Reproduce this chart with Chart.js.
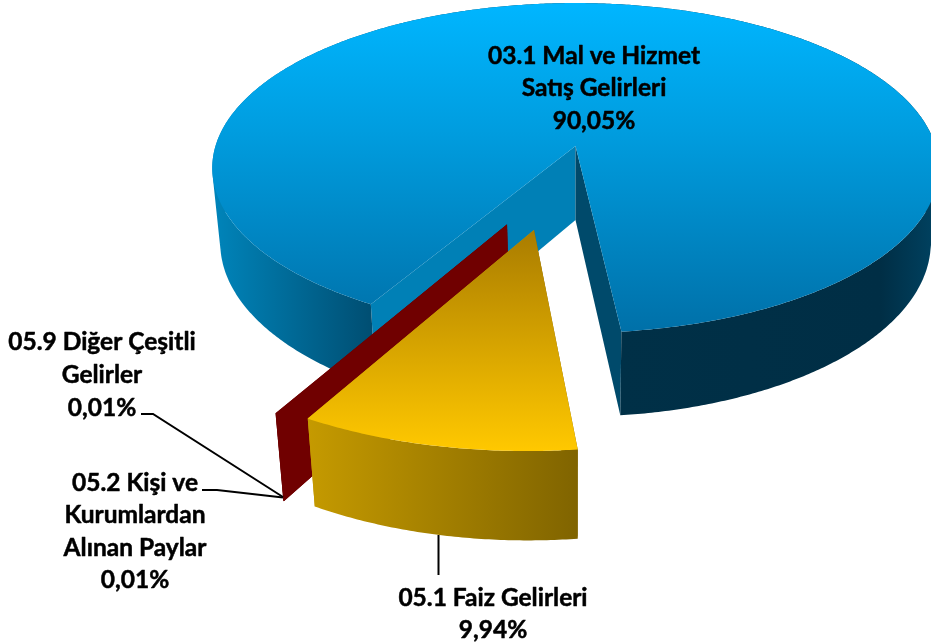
<!DOCTYPE html>
<html><head><meta charset="utf-8">
<style>html,body{margin:0;padding:0;background:#fff}#w{width:931px;height:644px;overflow:hidden}</style>
<script src="https://cdn.jsdelivr.net/npm/chart.js@4/dist/chart.umd.min.js"></script>
</head><body><div id="w"><canvas id="c" width="931" height="644"></canvas></div>
<script>
const categories = ['03.1 Mal ve Hizmet Satış Gelirleri','05.1 Faiz Gelirleri','05.2 Kişi ve Kurumlardan Alınan Paylar','05.9 Diğer Çeşitli Gelirler'];
const values = [90.05, 9.94, 0.01, 0.01];
const labelLines0 = ['03.1 Mal ve Hizmet','Satış Gelirleri'];
const labelLines1 = ['05.1 Faiz Gelirleri'];
const labelLines2 = ['05.2 Kişi ve','Kurumlardan','Alınan Paylar'];
const labelLines3 = ['05.9 Diğer Çeşitli','Gelirler'];
const percentTexts = values.map(v => v.toFixed(2).replace('.', ',') + '%');

// view of the 3D pie
const V = {cx:575.5, cy:146, R:360, S:162, H:75.6, Hv:3, k:0.1333, m:0.022};
function P(u,v,z){const w=1-V.k*v+V.m*z;return [V.cx+V.R*u/w, V.cy+(V.S*v+(V.H+V.Hv*v)*z)/w];}
const rad = Math.PI/180;
// slice style: explode distance, explode direction shift, radius scale, edge nudges (deg)
const explodeDist = [0,0.497,0.4885,0.4885];
const explodeShift = [0,0,-9,-9];
const radiusScale = [1,1.02,1.03,1.03];
const startNudge = [-0.3,-1,-1.2,-1.2];
const endNudge = [-1,-1.1,-1.2,-1.2];

function lin(ctx,x0,y0,x1,y1,stops){const g=ctx.createLinearGradient(x0,y0,x1,y1);stops.forEach(s=>g.addColorStop(s[0],s[1]));return g;}
function poly(ctx,pts,fill){ctx.beginPath();pts.forEach((p,i)=>i?ctx.lineTo(p[0],p[1]):ctx.moveTo(p[0],p[1]));ctx.closePath();ctx.fillStyle=fill;ctx.fill();}
function area(q){let s=0;q.forEach((p,i)=>{const r=q[(i+1)%q.length];s+=p[0]*r[1]-r[0]*p[1];});return s;}

function drawSlice(ctx,el,i,st){
  const a0=el.startAngle+startNudge[i]*rad, a1=el.endAngle+endNudge[i]*rad, mid=(el.startAngle+el.endAngle)/2+explodeShift[i]*rad;
  const ox=Math.cos(mid)*explodeDist[i], oy=Math.sin(mid)*explodeDist[i], r=radiusScale[i];
  const n=Math.max(2,Math.ceil((a1-a0)/rad*2));
  const at=(a,z)=>P(ox+r*Math.cos(a),oy+r*Math.sin(a),z);
  const top=[],bot=[];
  for(let j=0;j<=n;j++){const a=a0+(a1-a0)*j/n;top.push(at(a,0));bot.push(at(a,1));}
  const c0=P(ox,oy,0),c1=P(ox,oy,1);
  // radial walls first: the slice's own rim and top hide whichever face away
  poly(ctx,[c0,top[0],bot[0],c1],st.wallStart);
  poly(ctx,[c0,top[n],bot[n],c1],st.wallEnd);
  // rim swept as one path of same-wound segments, so its silhouette follows the tangent without seams
  ctx.beginPath();
  for(let j=0;j<n;j++){
    let q=[top[j],top[j+1],bot[j+1],bot[j]];
    if(area(q)<0) q=q.reverse();
    q.forEach((p,k)=>k?ctx.lineTo(p[0],p[1]):ctx.moveTo(p[0],p[1]));
    ctx.closePath();
  }
  ctx.fillStyle=st.outer;ctx.fill();
  poly(ctx,[c0].concat(top),st.top);
}

const pie3d = {
  id:'pie3d',
  beforeDatasetDraw(chart){
    const ctx=chart.ctx, els=chart.getDatasetMeta(0).data;
    const styles=[
      {outer:lin(ctx,212,0,931,0,[[0,'#0085bb'],[0.222,'#004e72'],[0.56,'#003047'],[0.93,'#002e45'],[1,'#00405e']]),
       wallStart:'#0080b6',wallEnd:'#004a6b',
       top:lin(ctx,0,3,0,333,[[0,'#00b6ff'],[0.4,'#009cde'],[1,'#0070a8']])},
      {outer:lin(ctx,308,0,578,0,[[0,'#c59a00'],[1,'#806400']]),
       wallStart:'#806400',wallEnd:'#c59a00',
       top:lin(ctx,0,230,0,450,[[0,'#a97c00'],[1,'#ffc800']])},
      {outer:'#700000',wallStart:'#700000',wallEnd:'#700000',top:'#700000'},
      {outer:'#700000',wallStart:'#700000',wallEnd:'#700000',top:'#700000'}
    ];
    [0,3,2,1].forEach(i=>drawSlice(ctx,els[i],i,styles[i]));
    return false;
  },
  afterDatasetsDraw(chart){
    const ctx=chart.ctx;
    ctx.save();
    ctx.strokeStyle='#000';ctx.lineWidth=2;ctx.lineJoin='miter';
    [[[141,414],[153,414],[283,497]],[[202,490],[217,490],[283,497.5]],[[438.5,535],[438.5,575]]].forEach(l=>{
      ctx.beginPath();l.forEach((p,i)=>i?ctx.lineTo(p[0],p[1]):ctx.moveTo(p[0],p[1]));ctx.stroke();});
    ctx.fillStyle='#000';ctx.font='bold 24.5px Lato';ctx.textAlign='center';ctx.textBaseline='middle';
    ctx.lineWidth=0.5;ctx.lineJoin='round';
    const put=(lines,pct,x,y,dy)=>{lines.concat([pct]).forEach((t,i)=>{ctx.fillText(t,x,y+i*dy);ctx.strokeText(t,x,y+i*dy);});};
    put(labelLines0,percentTexts[0],594,56,32.5);
    put(labelLines1,percentTexts[1],493,598,32);
    put(labelLines2,percentTexts[2],135,483,32.5);
    put(labelLines3,percentTexts[3],102,342,33);
    ctx.restore();
  }
};

new Chart(document.getElementById('c'),{
  type:'pie',
  data:{labels:categories,datasets:[{data:values,borderWidth:0,backgroundColor:['#009cde','#e0a800','#700000','#700000']}]},
  options:{responsive:false,animation:false,rotation:210.5,
    plugins:{legend:{display:false},tooltip:{enabled:false}}},
  plugins:[pie3d]
});
</script></body></html>
